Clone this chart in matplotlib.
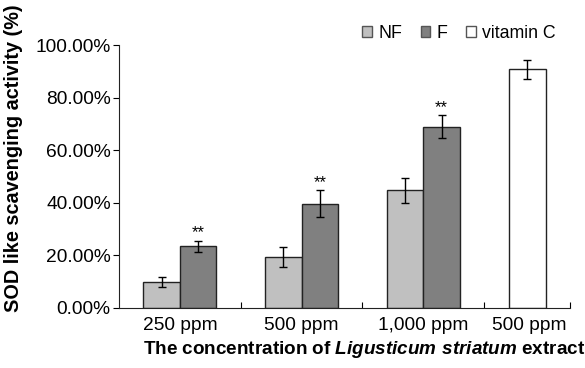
import numpy as np
import matplotlib.pyplot as plt
from matplotlib.ticker import FuncFormatter, FixedLocator

plt.rcParams['font.family'] = ['Liberation Sans', 'DejaVu Sans']
plt.rcParams['mathtext.fontset'] = 'custom'
plt.rcParams['mathtext.bfit'] = 'Liberation Sans:italic:bold'

# data (percent)
groups = ['250 ppm', '500 ppm', '1,000 ppm']
nf_vals = [9.8, 19.5, 44.7]
nf_err = [2.0, 3.8, 4.6]
f_vals = [23.4, 39.7, 69.0]
f_err = [2.2, 5.0, 4.2]
vitc_label = '500 ppm'
vitc_val = 90.7
vitc_err = 3.5

fig = plt.figure(figsize=(5.85, 3.68), dpi=100)
ax = fig.add_axes([119/585, 1-308/368, (570-119)/585, (308-45)/368])

x = np.arange(len(groups))
w = 0.3
ek = dict(ecolor='black', elinewidth=1, capsize=3, capthick=1)
ax.bar(x + 0.35, nf_vals, w, yerr=nf_err, color='#c0c0c0', edgecolor='#222222', linewidth=1, label='NF', error_kw=ek)
ax.bar(x + 0.65, f_vals, w, yerr=f_err, color='#808080', edgecolor='#222222', linewidth=1, label='F', error_kw=ek)
ax.bar([3.355], [vitc_val], w, yerr=[vitc_err], color='white', edgecolor='#222222', linewidth=1, label='vitamin C', error_kw=ek)

for xi, v, e in zip(x + 0.65, f_vals, f_err):
    ax.text(xi, v + e + 0.2, '**', ha='center', va='bottom', fontsize=12)

ax.set_xlim(0, 3.705)
ax.set_ylim(0, 100)
ax.set_yticks(np.arange(0, 101, 20))
ax.yaxis.set_major_formatter(FuncFormatter(lambda v, p: '%.2f%%' % v))
ax.tick_params(axis='y', direction='out', length=4, labelsize=13.8, pad=2)

ax.xaxis.set_major_locator(FixedLocator([1, 2, 3, 3.705]))
ax.set_xticklabels([])
ax.tick_params(axis='x', which='major', direction='in', length=4)
for xi, lab in zip(list(x + 0.5) + [3.37], groups + [vitc_label]):
    ax.text(xi, -3.5, lab, ha='center', va='top', fontsize=13.8, clip_on=False)

for s in ['top', 'right']:
    ax.spines[s].set_visible(False)
ax.spines['left'].set_color('#222222')
ax.spines['bottom'].set_color('#222222')

fig.text(14/585, 1-158/368, 'SOD like scavenging activity (%)', rotation=90,
         ha='center', va='center', fontsize=14.3, fontweight='bold')
fig.text(364/585, 1-350/368, r'The concentration of $\mathbfit{Ligusticum\ striatum}$ extract',
         ha='center', va='center', fontsize=13.6, fontweight='bold')

leg = ax.legend(loc='center', bbox_to_anchor=(459/585, 1-33/368), bbox_transform=fig.transFigure,
                ncol=3, frameon=False, fontsize=12.8, handlelength=0.55, handleheight=0.55,
                handletextpad=0.35, columnspacing=1.05, borderpad=0)
for h in leg.legend_handles:
    h.set_edgecolor('#555555')

fig.savefig('out.png', dpi=100)
